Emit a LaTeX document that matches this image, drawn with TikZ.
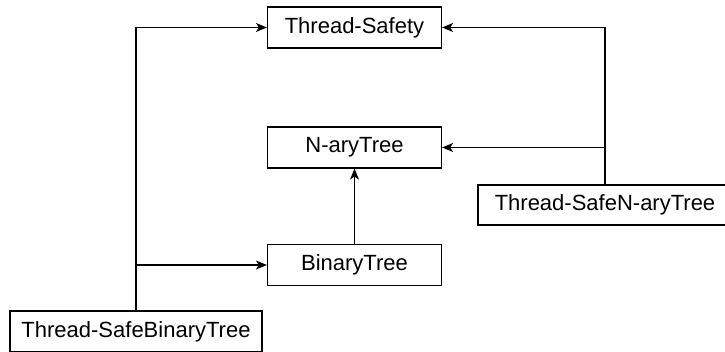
\documentclass[tikz,border=0pt]{standalone}
\usepackage{fontspec}
\setmainfont{Liberation Sans}
\usetikzlibrary{arrows.meta}

\begin{document}
\begin{tikzpicture}[x=1pt, y=-1pt, node distance=120pt, line width=1.2pt,
    >={Stealth[length=11pt, width=9pt, inset=3pt]},
    box/.style={draw, inner sep=0pt, minimum width=174pt, minimum height=41pt,
      font=\fontsize{22}{26}\selectfont}]
  \useasboundingbox (0,0) rectangle (725,351);
  % Classes
  \node[box] (safety) at (354.5,27.5) {Thread-Safety};
  \node[box, below of=safety] (nary) {N-aryTree};
  \node[box, below of=nary, node distance=117.5pt] (binary) {BinaryTree};
  \node[box, minimum width=252pt] (tsbinary) at (136,331.5) {Thread-SafeBinaryTree};
  \node[box, minimum width=254pt, minimum height=40pt] (tsnary) at (605,205) {Thread-SafeN-aryTree};

  \draw[->] (binary) to (nary);
  \draw[->] (tsbinary.north) |- (safety.west);
  \draw[->] (tsbinary.north |- binary) to (binary.west);
  \draw[->] (tsnary.north) |- (safety.east);
  \draw[->] (tsnary.north |- nary) to (nary.east);

\end{tikzpicture}
\end{document}
